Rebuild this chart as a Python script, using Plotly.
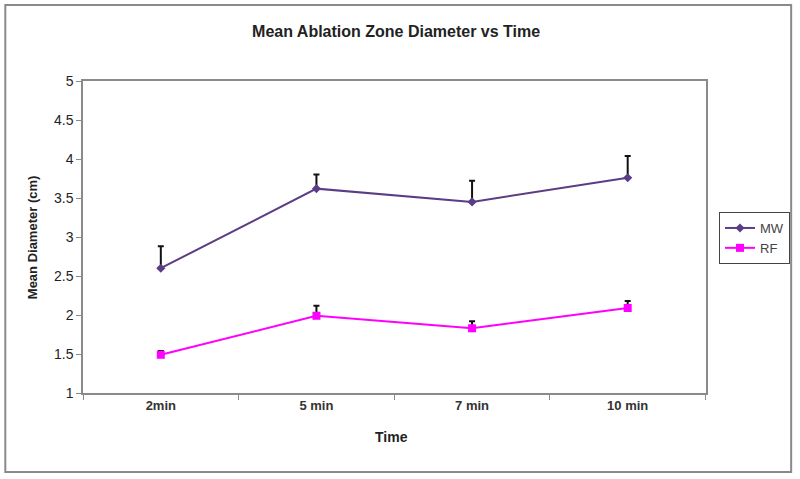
import plotly.graph_objects as go

categories = ["2min", "5 min", "7 min", "10 min"]
mw_values = [2.60, 3.62, 3.45, 3.76]
mw_err = [0.28, 0.18, 0.27, 0.28]
rf_values = [1.49, 1.99, 1.83, 2.09]
rf_err = [0.05, 0.13, 0.09, 0.09]
y_ticks = [1, 1.5, 2, 2.5, 3, 3.5, 4, 4.5, 5]
y_tick_labels = ["1", "1.5", "2", "2.5", "3", "3.5", "4", "4.5", "5"]

MW_COLOR = "#5b3d85"
RF_COLOR = "#ff00ff"
FONT = "Liberation Sans, Arial, sans-serif"

fig = go.Figure()
fig.add_trace(go.Scatter(
    x=categories, y=mw_values, name="MW", mode="lines+markers",
    line=dict(color=MW_COLOR, width=2),
    marker=dict(symbol="diamond", size=7, color=MW_COLOR),
    error_y=dict(type="data", array=mw_err, arrayminus=[0] * len(mw_err),
                 symmetric=False, color="#111111", thickness=2, width=3),
))
fig.add_trace(go.Scatter(
    x=categories, y=rf_values, name="RF", mode="lines+markers",
    line=dict(color=RF_COLOR, width=2),
    marker=dict(symbol="square", size=8, color=RF_COLOR),
    error_y=dict(type="data", array=rf_err, arrayminus=[0] * len(rf_err),
                 symmetric=False, color="#111111", thickness=2, width=3),
))

fig.update_layout(
    width=800, height=479,
    margin=dict(l=83, r=92, t=81, b=86),
    paper_bgcolor="white", plot_bgcolor="white",
    font=dict(family=FONT, size=12, color="#222222"),
    title=dict(text="<b>Mean Ablation Zone Diameter vs Time</b>",
               x=0.503, xref="paper", xanchor="center",
               y=1 - 31 / 479, yref="container", yanchor="middle",
               font=dict(size=16, color="#222222")),
    showlegend=True,
    legend=dict(x=719 / 800, y=1 - 212 / 479, xref="container", yref="container",
                xanchor="left", yanchor="top",
                bordercolor="#444444", borderwidth=1, bgcolor="white",
                font=dict(size=13, color="#444444"),
                itemwidth=30, tracegroupgap=0),
    xaxis=dict(type="category", showgrid=False, showline=True,
               linecolor="#8a8a8a", linewidth=1.5, mirror=True,
               ticks="outside", tickson="boundaries", ticklen=5,
               tickcolor="#8a8a8a",
               tickvals=categories,
               ticktext=["<b>" + c + "</b>" for c in categories],
               tickfont=dict(size=13, color="#333333"),
               range=[-0.5, 3.5]),
    yaxis=dict(range=[1, 5], tickvals=y_ticks, ticktext=y_tick_labels,
               showgrid=False, showline=True, linecolor="#8a8a8a",
               linewidth=1.5, mirror=True, ticks="outside", ticklen=5,
               tickcolor="#8a8a8a", tickfont=dict(size=14, color="#222222"),
               zeroline=False),
    shapes=[dict(type="rect", xref="paper", yref="paper",
                 x0=-78 / 625, x1=(794 - 83) / 625,
                 y0=-(472 - 393) / 312, y1=(393 - 5) / 312,
                 line=dict(color="#8a8a8a", width=2))],
    annotations=[
        dict(text="<b>Mean Diameter (cm)</b>", textangle=-90,
             xref="paper", yref="paper", x=(32 - 83) / 625, y=0.5,
             xanchor="center", yanchor="middle", showarrow=False,
             font=dict(size=13, color="#222222")),
        dict(text="<b>Time</b>", xref="paper", yref="paper",
             x=(393 - 83) / 625, y=-(437 - 393) / 312,
             xanchor="center", yanchor="middle", showarrow=False,
             font=dict(size=14, color="#222222")),
    ],
)

fig.write_html("out.html", config={"displayModeBar": False},
               post_script="document.body.style.margin='0';document.body.style.padding='0';")
